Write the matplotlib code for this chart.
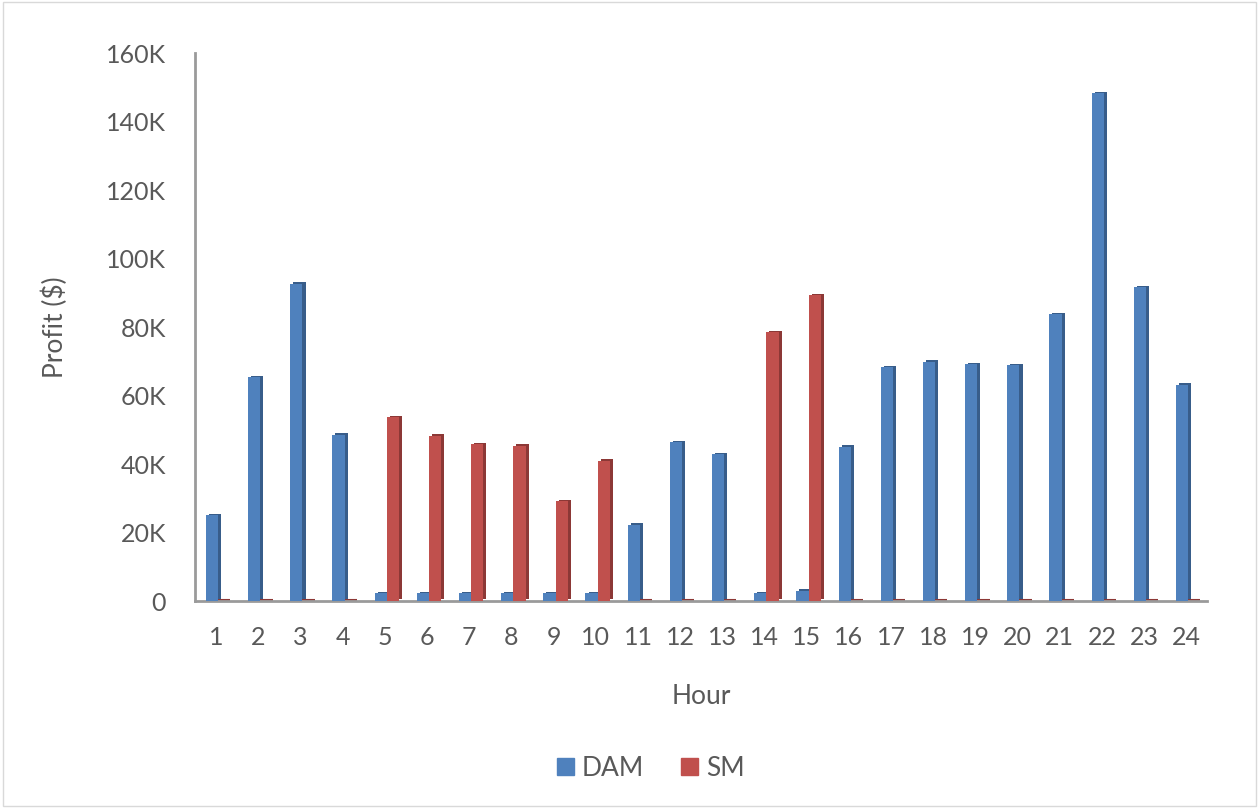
import matplotlib.pyplot as plt
import matplotlib.patheffects as pe
from matplotlib.patches import Patch
import numpy as np

# Data (values in $K)
hours = np.arange(1, 25)
dam = [25.1, 65.4, 92.6, 48.5, 2.3, 2.3, 2.3, 2.3, 2.3, 2.3, 22.2, 46.4,
       42.9, 2.3, 3.0, 45.0, 68.3, 69.8, 69.2, 68.9, 83.8, 148.3, 91.7, 63.1]
sm = [0, 0, 0, 0, 53.7, 48.2, 45.8, 45.3, 29.2, 40.9, 0, 0,
      0, 78.5, 89.3, 0, 0, 0, 0, 0, 0, 0, 0, 0]
yticks = [0, 20, 40, 60, 80, 100, 120, 140, 160]
ytick_labels = ['0', '20K', '40K', '60K', '80K', '100K', '120K', '140K', '160K']

blue, blue_dark = '#4F81BD', '#385D8A'
red, red_dark = '#C0504D', '#8C3836'
txt = '#595959'

plt.rcParams['font.family'] = ['Lato', 'DejaVu Sans']
fig = plt.figure(figsize=(12.59, 8.08), dpi=100)
ax = fig.add_axes([0.155, 0.256, 0.804, 0.678])

w = 0.29
b1 = ax.bar(hours - 0.1, dam, w, color=blue, zorder=3)
b2 = ax.bar(hours + 0.19, sm, w, color=red, zorder=3)
for p in b1:
    p.set_path_effects([pe.SimplePatchShadow(offset=(2.2, 1.2), shadow_rgbFace=blue_dark, alpha=1), pe.Normal()])
for p in b2:
    p.set_path_effects([pe.SimplePatchShadow(offset=(2.2, 1.2), shadow_rgbFace=red_dark, alpha=1), pe.Normal()])
# flat top faces of the zero-height SM bars
zero = [h for h, v in zip(hours, sm) if v == 0]
ax.hlines([0.3] * len(zero), np.array(zero) + 0.19 - w / 2, np.array(zero) + 0.19 + w / 2,
          color=red_dark, lw=1.5, zorder=2)

ax.set_xlim(0.5, 24.5)
ax.set_ylim(0, 160)
ax.set_xticks(hours)
ax.set_yticks(yticks)
ax.set_yticklabels(ytick_labels)
ax.tick_params(length=0, labelsize=18, colors=txt)
ax.tick_params(axis='x', pad=18)
ax.tick_params(axis='y', pad=21)
for s in ['top', 'right']:
    ax.spines[s].set_visible(False)
for s in ['left', 'bottom']:
    ax.spines[s].set_color('#9A9A9A')
    ax.spines[s].set_linewidth(2)

ax.set_xlabel('Hour', fontsize=19, color=txt, labelpad=25)
ax.set_ylabel('Profit ($)', fontsize=19, color=txt, labelpad=27)
handles = [Patch(color=blue, label='DAM'), Patch(color=red, label='SM')]
ax.legend(handles=handles, loc='center', bbox_to_anchor=(0.45, -0.305), ncol=2, frameon=False,
          fontsize=19, labelcolor=txt, handlelength=0.65, handleheight=0.65,
          columnspacing=1.4, handletextpad=0.3)

fig.patches.append(plt.Rectangle((0.002, 0.002), 0.996, 0.996, transform=fig.transFigure,
                                 fill=False, edgecolor='#D9D9D9', lw=1))
fig.savefig('out.png', dpi=100)
